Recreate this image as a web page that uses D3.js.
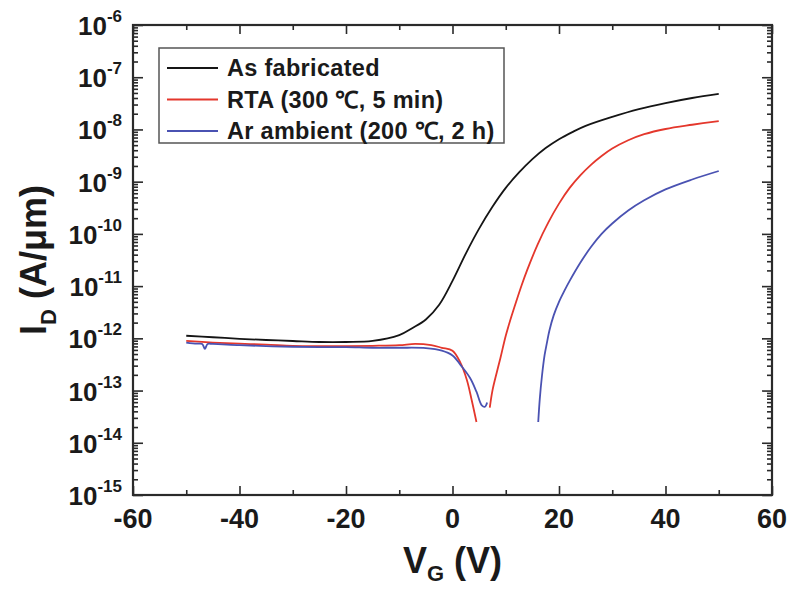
<!DOCTYPE html>
<html>
<head>
<meta charset="utf-8">
<script src="https://cdn.jsdelivr.net/npm/d3@7"></script>
<style>
  body { margin: 0; background: #fff; }
  svg text { font-family: "Liberation Sans", Arial, sans-serif; font-weight: bold; fill: #1a1a1a; }
</style>
</head>
<body>
<div id="chart"></div>
<script>
// Дані (VG у вольтах, ID у A/µm)
const seriesNames = ["As fabricated", "RTA (300 \u2103, 5 min)", "Ar ambient (200 \u2103, 2 h)"];
const seriesColors = ["#151515", "#e4372c", "#4a52b2"];

const asFabV = [-50, -45, -40, -35, -30, -25, -20, -15, -10, -7.5, -5, -2.5, 0, 2.5, 5, 7.5, 10, 12.5, 15, 17.5, 20, 22.5, 25, 30, 35, 40, 45, 50];
const asFabI = [1.12e-12, 1.05e-12, 9.8e-13, 9.3e-13, 8.9e-13, 8.5e-13, 8.5e-13, 8.9e-13, 1.15e-12, 1.58e-12, 2.3e-12, 4.4e-12, 1.26e-11, 4.2e-11, 1.26e-10, 3.3e-10, 7.6e-10, 1.5e-9, 2.7e-9, 4.4e-9, 6.5e-9, 8.9e-9, 1.17e-8, 1.74e-8, 2.45e-8, 3.2e-8, 4.0e-8, 4.8e-8];

// RTA: струм змінює знак біля 5-7 В, тому дві гілки
const rtaLeftV = [-50, -45, -40, -35, -30, -25, -20, -15, -10, -7, -4, -2, 0, 1.5, 2.7, 3.6, 4.5];
const rtaLeftI = [8.9e-13, 8.3e-13, 7.9e-13, 7.6e-13, 7.2e-13, 7.1e-13, 7.1e-13, 7.2e-13, 7.4e-13, 7.8e-13, 7.4e-13, 6.6e-13, 5.8e-13, 3.4e-13, 1.6e-13, 6.6e-14, 2.5e-14];
const rtaRightV = [7.0, 7.5, 8.3, 9, 10, 11, 12, 13, 14, 16, 18, 20, 22, 24, 26, 28, 30, 33, 36, 40, 45, 50];
const rtaRightI = [4.7e-14, 1.0e-13, 2.2e-13, 4.2e-13, 1.12e-12, 2.5e-12, 5.2e-12, 1.05e-11, 2.0e-11, 6.3e-11, 1.66e-10, 3.8e-10, 7.6e-10, 1.32e-9, 2.1e-9, 3.1e-9, 4.3e-9, 6.2e-9, 8.1e-9, 1.02e-8, 1.23e-8, 1.45e-8];

// Ar ambient
const arLeftV = [-50, -48, -47, -46.5, -46, -45, -40, -35, -30, -25, -20, -15, -10, -5, -2, 0, 1.5, 3.3, 4.5, 5.5, 6.1, 6.5];
const arLeftI = [8.3e-13, 7.9e-13, 7.8e-13, 6.3e-13, 7.8e-13, 7.8e-13, 7.4e-13, 7.1e-13, 6.9e-13, 6.8e-13, 6.8e-13, 6.6e-13, 6.6e-13, 6.5e-13, 5.8e-13, 4.7e-13, 3.1e-13, 1.74e-13, 9.5e-14, 5.2e-14, 4.9e-14, 5.9e-14];
const arRightV = [16.1, 16.4, 16.8, 17.3, 17.7, 18.2, 19, 20, 21, 22, 24, 26, 28, 30, 33, 36, 40, 45, 50];
const arRightI = [2.5e-14, 7.1e-14, 1.9e-13, 4.8e-13, 7.9e-13, 1.41e-12, 2.75e-12, 5.0e-12, 8.1e-12, 1.26e-11, 2.8e-11, 5.6e-11, 1.0e-10, 1.58e-10, 2.8e-10, 4.4e-10, 7.1e-10, 1.1e-9, 1.6e-9];

const xTicks = [-60, -40, -20, 0, 20, 40, 60];
const xMinorTicks = [-50, -30, -10, 10, 30, 50];
const yExponents = [-6, -7, -8, -9, -10, -11, -12, -13, -14, -15];

const W = 790, H = 590;
const margin = {top: 25, right: 18, bottom: 95, left: 133};

const svg = d3.select("#chart").append("svg")
    .attr("width", W).attr("height", H);

const xScale = d3.scaleLinear().domain([-60, 60]).range([margin.left, W - margin.right]);
const yScale = d3.scaleLog().domain([1e-15, 1e-6]).range([H - margin.bottom, margin.top]);

const x0 = xScale.range()[0], x1 = xScale.range()[1];
const yTop = yScale.range()[1], yBot = yScale.range()[0];

const axisColor = "#2a2a2a";

// мінорні позначки логарифмічної осі
const yAllTicks = yScale.ticks();
const isMajor = v => Math.abs(Math.log10(v) - Math.round(Math.log10(v))) < 1e-9;
const yMinor = yAllTicks.filter(v => !isMajor(v));
const yMajor = yExponents.map(e => Math.pow(10, e));

function styleAxis(g) {
    g.select(".domain").remove();
    g.selectAll(".tick line").attr("stroke", axisColor).attr("stroke-width", 1.6);
    g.selectAll(".tick text").remove();
}

// ліва вісь (позначки всередину)
svg.append("g").attr("transform", `translate(${x0},0)`)
    .call(d3.axisRight(yScale).tickValues(yMajor).tickSize(10).tickFormat(""))
    .call(styleAxis);
svg.append("g").attr("transform", `translate(${x0},0)`)
    .call(d3.axisRight(yScale).tickValues(yMinor).tickSize(5).tickFormat(""))
    .call(styleAxis);
// права вісь
svg.append("g").attr("transform", `translate(${x1},0)`)
    .call(d3.axisLeft(yScale).tickValues(yMajor).tickSize(10).tickFormat(""))
    .call(styleAxis);
svg.append("g").attr("transform", `translate(${x1},0)`)
    .call(d3.axisLeft(yScale).tickValues(yMinor).tickSize(5).tickFormat(""))
    .call(styleAxis);
// нижня вісь
svg.append("g").attr("transform", `translate(0,${yBot})`)
    .call(d3.axisTop(xScale).tickValues(xTicks).tickSize(9).tickFormat(""))
    .call(styleAxis);
svg.append("g").attr("transform", `translate(0,${yBot})`)
    .call(d3.axisTop(xScale).tickValues(xMinorTicks).tickSize(5).tickFormat(""))
    .call(styleAxis);
// верхня вісь
svg.append("g").attr("transform", `translate(0,${yTop})`)
    .call(d3.axisBottom(xScale).tickValues(xTicks).tickSize(9).tickFormat(""))
    .call(styleAxis);
svg.append("g").attr("transform", `translate(0,${yTop})`)
    .call(d3.axisBottom(xScale).tickValues(xMinorTicks).tickSize(5).tickFormat(""))
    .call(styleAxis);

// рамка
svg.append("rect")
    .attr("x", x0).attr("y", yTop)
    .attr("width", x1 - x0).attr("height", yBot - yTop)
    .attr("fill", "none").attr("stroke", axisColor).attr("stroke-width", 2.2);

// підписи осі Y: 10^n
const yLab = svg.append("g").selectAll("text").data(yExponents).join("text")
    .attr("x", 122)
    .attr("y", d => yScale(Math.pow(10, d)) + 10)
    .attr("text-anchor", "end")
    .style("font-size", "26px");
yLab.append("tspan").text("10");
yLab.append("tspan").attr("dy", -13).style("font-size", "17px").text(d => d);

// підписи осі X
svg.append("g").selectAll("text").data(xTicks).join("text")
    .attr("x", d => xScale(d))
    .attr("y", yBot + 33)
    .attr("text-anchor", "middle")
    .style("font-size", "27px")
    .text(d => d);

// назви осей
const xt = svg.append("text")
    .attr("x", xScale(0)).attr("y", 573)
    .attr("text-anchor", "middle")
    .style("font-size", "36px");
xt.append("tspan").text("V");
xt.append("tspan").attr("dy", 8).style("font-size", "22px").text("G");
xt.append("tspan").attr("dy", -8).text(" (V)");

const yt = svg.append("text")
    .attr("transform", `translate(46,${(yTop + yBot) / 2}) rotate(-90)`)
    .attr("text-anchor", "middle")
    .style("font-size", "36px");
yt.append("tspan").text("I");
yt.append("tspan").attr("dy", 10).style("font-size", "22px").text("D");
yt.append("tspan").attr("dy", -10).text(" (A/\u03bcm)");

// криві
const lineGen = d3.line()
    .x(d => xScale(d[0]))
    .y(d => yScale(d[1]))
    .curve(d3.curveCatmullRom.alpha(0.5));

const curves = [
    {v: asFabV, i: asFabI, c: 0},
    {v: rtaLeftV, i: rtaLeftI, c: 1},
    {v: rtaRightV, i: rtaRightI, c: 1},
    {v: arLeftV, i: arLeftI, c: 2},
    {v: arRightV, i: arRightI, c: 2}
];

svg.append("g").selectAll("path").data(curves).join("path")
    .attr("d", d => lineGen(d3.zip(d.v, d.i)))
    .attr("fill", "none")
    .attr("stroke", d => seriesColors[d.c])
    .attr("stroke-width", 1.8);

// легенда
const legend = svg.append("g");
legend.append("rect")
    .attr("x", 159).attr("y", 48)
    .attr("width", 345).attr("height", 95)
    .attr("fill", "#fff").attr("stroke", "#555").attr("stroke-width", 1.5);

const rows = legend.selectAll("g").data(seriesNames).join("g")
    .attr("transform", (d, k) => `translate(0,${68 + k * 31.5})`);
rows.append("line")
    .attr("x1", 167).attr("x2", 218)
    .attr("stroke", (d, k) => seriesColors[k]).attr("stroke-width", 1.8);
rows.append("text")
    .attr("x", 227).attr("y", 8)
    .style("font-size", "23.5px")
    .style("letter-spacing", "0.3px")
    .text(d => d);
</script>
</body>
</html>
